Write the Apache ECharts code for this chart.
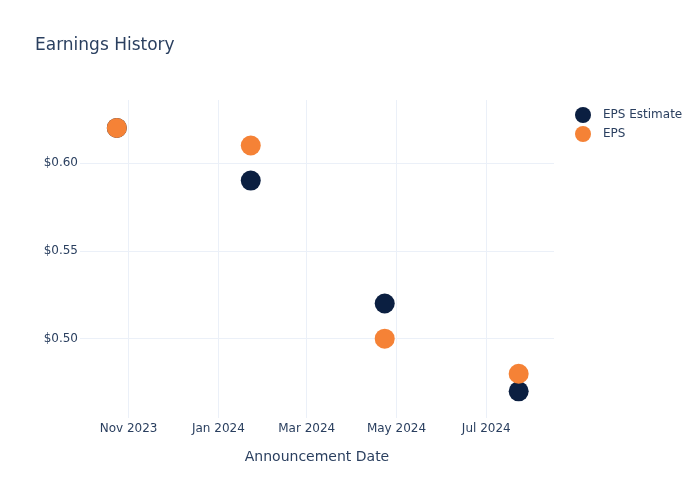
<!DOCTYPE html>
<html>
<head>
<meta charset="utf-8">
<script src="https://cdn.jsdelivr.net/npm/echarts@6/dist/echarts.min.js"></script>
<style>html,body{margin:0;padding:0;background:#fff}#c{width:700px;height:500px}</style>
</head>
<body>
<div id="c"></div>
<script>
const dates = ['2023-10-24', '2024-01-23', '2024-04-23', '2024-07-23'];
const epsEstimate = [0.62, 0.59, 0.52, 0.47];
const eps = [0.62, 0.61, 0.50, 0.48];
const xTicks = ['2023-11-01', '2024-01-01', '2024-03-01', '2024-05-01', '2024-07-01'];
const monthNames = ['Jan','Feb','Mar','Apr','May','Jun','Jul','Aug','Sep','Oct','Nov','Dec'];

const FONT = 'DejaVu Sans, Open Sans, sans-serif';
const TXT = '#2a3f5f';
const GRID = '#ebf0f8';
const toTs = s => { const p = s.split('-').map(Number); return Date.UTC(p[0], p[1]-1, p[2]); };
const xTickTs = xTicks.map(toTs);

const chart = echarts.init(document.getElementById('c'), null, {renderer: 'canvas'});
chart.setOption({
  animation: false,
  backgroundColor: '#fff',
  title: {
    text: 'Earnings History', left: 35, top: 37, padding: 0,
    textStyle: {fontFamily: FONT, fontSize: 17, fontWeight: 'normal', color: TXT}
  },
  legend: {
    orient: 'vertical', left: 575, top: 107, padding: 0, itemWidth: 16, itemHeight: 16, itemGap: 3,
    icon: 'circle',
    textStyle: {fontFamily: FONT, fontSize: 12, color: TXT, padding: [0,0,0,7]},
    data: ['EPS Estimate', 'EPS']
  },
  grid: {left: 80, right: 146, top: 100, bottom: 82, containLabel: false},
  xAxis: {
    type: 'value',
    min: toTs('2023-09-29'), max: toTs('2024-08-16'),
    name: 'Announcement Date', nameLocation: 'middle', nameGap: 32,
    nameTextStyle: {fontFamily: FONT, fontSize: 14, color: TXT},
    axisLine: {show: false},
    axisTick: {show: false, customValues: xTickTs},
    axisLabel: {
      customValues: xTickTs,
      fontFamily: FONT, fontSize: 12, color: TXT, margin: 5,
      formatter: v => { const d = new Date(v); return monthNames[d.getUTCMonth()] + ' ' + d.getUTCFullYear(); }
    },
    splitLine: {show: false}
  },
  yAxis: {
    type: 'value',
    min: 0.4548, max: 0.6359,
    minInterval: 0.05, maxInterval: 0.05,
    axisLine: {show: false}, axisTick: {show: false},
    axisLabel: {
      showMinLabel: false, showMaxLabel: false,
      fontFamily: FONT, fontSize: 12, color: TXT, margin: 2,
      formatter: v => '$' + v.toFixed(2)
    },
    splitLine: {show: true, showMinLine: false, showMaxLine: false, lineStyle: {color: GRID, width: 1}}
  },
  series: [
    {
      name: 'EPS Estimate', type: 'scatter', symbolSize: 20,
      itemStyle: {color: '#0b1f41', opacity: 1},
      data: dates.map((d, i) => [toTs(d), epsEstimate[i]]),
      markLine: {
        silent: true, symbol: 'none', label: {show: false}, animation: false,
        lineStyle: {color: GRID, width: 1, type: 'solid'},
        data: xTickTs.map(t => ({xAxis: t}))
      },
      z: 2
    },
    {
      name: 'EPS', type: 'scatter', symbolSize: 20,
      itemStyle: {color: '#f58236', opacity: 1},
      data: dates.map((d, i) => [toTs(d), eps[i]]),
      z: 3
    }
  ]
});
</script>
</body>
</html>
